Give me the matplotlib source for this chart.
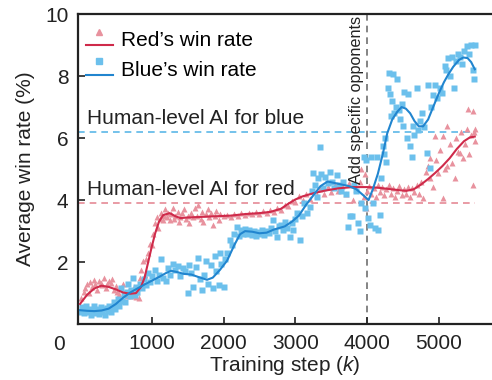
import matplotlib
matplotlib.use('Agg')
import matplotlib.pyplot as plt
from matplotlib.lines import Line2D
from matplotlib.legend_handler import HandlerBase

plt.rcParams['font.family'] = ['Liberation Sans', 'DejaVu Sans']
plt.rcParams['mathtext.fontset'] = 'custom'
plt.rcParams['mathtext.rm'] = 'Liberation Sans'
plt.rcParams['mathtext.it'] = 'Liberation Sans:italic'

# smoothed curves
red_line_x = [0, 100, 200, 300, 400, 500, 600, 700, 780, 850, 900, 950, 1000, 1050, 1100, 1160,
              1250, 1330, 1400, 1500, 1700, 1900, 2100, 2300, 2500, 2650, 2800, 2900, 3000, 3100,
              3250, 3400, 3600, 3800, 4000, 4150, 4300, 4450, 4550, 4650, 4750, 4850, 4950, 5050,
              5150, 5250, 5350, 5430, 5500]
red_line_y = [0.65, 0.95, 1.15, 1.24, 1.2, 1.12, 1.02, 0.98, 1.0, 1.2, 1.5, 2.0, 2.5, 2.95, 3.3, 3.52,
              3.58, 3.48, 3.42, 3.44, 3.46, 3.48, 3.5, 3.55, 3.58, 3.62, 3.72, 3.88, 4.02, 4.12,
              4.22, 4.3, 4.38, 4.42, 4.42, 4.4, 4.36, 4.32, 4.3, 4.35, 4.5, 4.68, 4.88, 5.1,
              5.35, 5.65, 5.9, 6.02, 6.05]

blue_line_x = [0, 100, 200, 300, 400, 500, 600, 700, 800, 900, 1000, 1100, 1200, 1270, 1350, 1450,
               1550, 1650, 1770, 1850, 1950, 2050, 2150, 2230, 2300, 2400, 2500, 2600, 2700, 2850,
               2950, 3050, 3150, 3250, 3350, 3450, 3550, 3650, 3750, 3850, 3950, 4020, 4080, 4150,
               4220, 4280, 4350, 4420, 4480, 4540, 4600, 4660, 4720, 4780, 4850, 4920, 5000, 5070,
               5130, 5200, 5280, 5340, 5400, 5450, 5500]
blue_line_y = [0.45, 0.43, 0.42, 0.44, 0.5, 0.65, 0.85, 1.02, 1.15, 1.28, 1.4, 1.52, 1.65, 1.72, 1.68, 1.62,
               1.6, 1.52, 1.43, 1.5, 1.75, 2.05, 2.55, 2.9, 3.0, 2.98, 2.93, 2.95, 3.05, 3.15,
               3.3, 3.5, 3.85, 4.15, 4.45, 4.6, 4.55, 4.5, 4.45, 4.35, 4.15, 4.0, 4.35, 4.85,
               5.5, 6.15, 6.6, 6.85, 7.0, 6.95, 6.8, 6.55, 6.38, 6.38, 6.6, 7.0, 7.45, 7.8,
               8.05, 8.3, 8.52, 8.6, 8.58, 8.45, 8.22]

# raw points
red_pts = [
    (20, 0.85), (50, 1.05), (70, 1.17), (100, 1.3), (120, 1.0), (140, 1.35), (170, 1.2), (190, 1.42),
    (210, 1.3), (240, 1.1), (260, 1.38), (290, 1.33), (310, 1.25), (330, 1.5), (360, 1.18), (380, 1.28),
    (400, 1.4), (430, 1.33), (450, 1.46), (470, 1.1), (500, 1.22), (520, 1.05), (550, 0.98), (570, 1.15),
    (600, 1.3), (620, 1.02), (650, 0.9), (680, 1.1), (700, 1.0), (730, 0.92), (750, 1.2), (780, 0.88),
    (800, 1.05), (820, 0.85),
    (840, 1.5), (855, 1.73), (880, 2.05), (900, 1.6), (920, 2.1), (950, 2.3), (970, 2.6), (1000, 2.55),
    (1020, 2.9), (1045, 3.25), (1070, 3.45), (1090, 3.1), (1110, 3.4), (1130, 3.6), (1150, 3.35),
    (1170, 3.5), (1190, 3.7), (1210, 3.45), (1230, 3.6), (1250, 3.35), (1270, 3.55), (1290, 3.75),
    (1310, 3.4), (1330, 3.5), (1360, 3.62), (1380, 3.3), (1400, 3.45), (1420, 3.58), (1450, 3.7),
    (1470, 3.4), (1500, 3.5), (1520, 3.25), (1550, 3.6), (1570, 3.45), (1600, 3.75), (1630, 3.5),
    (1650, 3.85), (1680, 3.4), (1700, 3.62), (1720, 3.3), (1750, 3.55), (1780, 3.7), (1800, 3.45),
    (1830, 3.6), (1850, 3.2), (1880, 3.5), (1900, 3.65), (1930, 3.35), (1950, 3.55),
    (2000, 3.48), (2050, 3.52), (2100, 3.46), (2150, 3.54), (2200, 3.5), (2250, 3.57), (2300, 3.52),
    (2350, 3.6), (2400, 3.55), (2450, 3.62), (2500, 3.56), (2550, 3.64), (2600, 3.58), (2650, 3.68),
    (2700, 3.62), (2750, 3.75), (2800, 3.68), (2850, 3.85), (2900, 3.8), (2950, 3.98), (3000, 3.95),
    (3050, 4.12), (3100, 4.0), (3150, 4.2), (3200, 4.05), (3250, 4.3), (3300, 4.15), (3350, 4.35),
    (3400, 4.2), (3450, 4.42), (3500, 4.25), (3550, 4.5), (3600, 4.3), (3650, 4.45), (3700, 4.2),
    (3750, 4.55), (3800, 4.0), (3850, 4.35), (3900, 4.6), (3920, 5.0), (3950, 4.1), (3970, 4.85),
    (3980, 3.75), (4000, 4.3),
    (4030, 4.45), (4060, 4.2), (4090, 4.38), (4120, 4.1), (4150, 4.5), (4180, 4.25), (4210, 4.42),
    (4240, 4.15), (4270, 4.35), (4300, 4.5), (4330, 4.2), (4360, 4.4), (4390, 4.1), (4420, 4.3),
    (4450, 4.45), (4480, 4.15), (4510, 4.35), (4540, 4.2), (4570, 4.42), (4600, 4.1), (4630, 4.38),
    (4660, 4.25), (4690, 4.5), (4720, 4.2),
    (4750, 4.6), (4780, 4.07), (4820, 4.9), (4850, 5.1), (4870, 5.37), (4880, 4.7), (4920, 4.43),
    (4940, 6.06), (4960, 5.3), (4990, 4.88), (5020, 5.6), (5060, 4.07), (5060, 6.06), (5080, 5.0),
    (5110, 6.38), (5120, 5.1), (5150, 5.8), (5180, 5.2), (5220, 4.72), (5240, 6.0), (5260, 5.55),
    (5290, 5.53), (5310, 6.2), (5340, 5.37), (5370, 5.8), (5390, 6.28), (5400, 6.94), (5420, 5.5),
    (5450, 6.1), (5470, 6.87), (5470, 4.5), (5490, 6.2), (5500, 5.9), (5510, 6.3),
]
blue_pts = [
    (10, 0.4), (30, 0.55), (50, 0.35), (70, 0.48), (90, 0.6), (110, 0.38), (130, 0.5), (150, 0.3),
    (170, 0.45), (190, 0.58), (210, 0.36), (230, 0.5), (250, 0.42), (270, 0.32), (290, 0.55), (310, 0.4),
    (330, 0.48), (350, 0.3), (370, 0.52), (390, 0.42), (410, 0.6), (430, 0.38), (450, 0.55), (470, 0.7),
    (490, 0.48), (510, 0.62), (530, 0.8), (550, 0.58), (570, 1.17), (590, 0.75), (610, 0.95), (630, 0.7),
    (650, 1.05), (670, 1.3), (690, 0.9), (710, 1.1), (740, 1.5), (760, 0.95), (780, 1.2),
    (800, 1.05), (830, 1.3), (860, 1.15), (890, 1.45), (920, 1.25), (950, 1.66), (980, 1.35), (1010, 1.55),
    (1045, 1.73), (1070, 1.4), (1100, 1.6), (1130, 2.1), (1160, 1.5), (1200, 1.4), (1230, 1.8), (1260, 1.6),
    (1300, 1.95), (1330, 1.75), (1365, 1.89), (1400, 1.55), (1430, 1.8), (1460, 1.7), (1500, 1.0),
    (1520, 1.9), (1550, 1.65), (1580, 1.2), (1610, 1.85), (1645, 2.12), (1670, 1.45), (1700, 1.1),
    (1730, 1.6), (1760, 2.05), (1790, 1.3), (1820, 1.9), (1850, 1.15), (1880, 2.2), (1900, 1.7),
    (1930, 1.25), (1950, 2.3), (1970, 1.95), (2000, 1.2), (2020, 2.1),
    (2050, 2.3), (2090, 2.7), (2120, 2.55), (2150, 2.9), (2185, 3.13), (2210, 2.85), (2240, 3.05),
    (2270, 2.9), (2300, 3.08), (2330, 2.92), (2360, 3.02), (2390, 2.88), (2420, 3.0), (2450, 2.85),
    (2480, 2.98), (2510, 2.9), (2540, 3.05), (2570, 2.88), (2600, 3.0), (2630, 2.95), (2660, 3.1),
    (2690, 3.35), (2720, 3.0), (2740, 2.8), (2770, 3.15), (2800, 3.2), (2830, 3.05), (2860, 3.3),
    (2890, 3.1), (2920, 2.8), (2950, 3.25), (2970, 3.03),
    (3000, 3.4), (3030, 3.6), (3060, 2.7), (3090, 3.5), (3120, 3.9), (3160, 3.58), (3200, 3.78),
    (3230, 4.3), (3250, 4.88), (3280, 4.5), (3300, 4.1), (3320, 4.7), (3340, 5.7), (3360, 4.85),
    (3390, 4.4), (3420, 4.75), (3450, 4.55), (3480, 4.9), (3510, 4.6), (3540, 4.4), (3580, 4.82),
    (3610, 4.5), (3640, 4.3), (3670, 4.6), (3700, 4.2), (3730, 3.13), (3760, 3.5), (3790, 3.5),
    (3820, 4.5), (3850, 4.3), (3870, 3.26), (3900, 3.0), (3920, 3.9), (3950, 5.4), (3970, 3.74),
    (3990, 5.3),
    (4010, 3.42), (4040, 3.2), (4060, 5.4), (4080, 3.9), (4110, 3.1), (4140, 5.4), (4150, 3.05),
    (4180, 3.52), (4200, 4.7), (4220, 5.73), (4240, 5.5), (4250, 6.0), (4270, 5.24), (4290, 7.6),
    (4300, 8.1), (4320, 7.43), (4330, 6.7), (4350, 7.2), (4360, 8.08), (4380, 6.8), (4400, 7.0),
    (4420, 7.9), (4440, 6.9), (4460, 6.6), (4480, 7.1), (4500, 6.38), (4520, 7.5), (4550, 6.0),
    (4570, 7.43), (4600, 5.73), (4620, 5.4), (4640, 6.4), (4660, 6.1), (4690, 7.6), (4710, 6.25),
    (4730, 6.55), (4760, 6.8), (4790, 6.35), (4830, 5.53), (4850, 7.7), (4870, 5.05), (4890, 7.0),
    (4920, 7.4), (4950, 7.7), (4980, 7.3), (5010, 7.6), (5040, 7.45), (5080, 8.34), (5100, 8.2),
    (5130, 8.57), (5160, 8.0), (5180, 8.6), (5210, 7.6), (5240, 8.5), (5270, 8.7), (5290, 8.63),
    (5320, 8.4), (5350, 8.8), (5390, 8.96), (5420, 8.7), (5450, 9.0), (5470, 8.2), (5490, 7.9),
    (5500, 9.0),
]

red_human = 3.9
blue_human = 6.2
switch_step = 4000

RED, RED_PT = '#cf2a4a', '#e8929e'
BLUE, BLUE_PT = '#2185cf', '#6cc0ec'
FS = 15


class MarkerOverLine(HandlerBase):
    def create_artists(self, legend, orig_handle, xdescent, ydescent, width, height, fontsize, trans):
        mk, ln = orig_handle
        x0 = -xdescent
        y0 = -ydescent
        l = Line2D([x0, x0 + width], [y0 + 0.05 * height, y0 + 0.05 * height],
                   color=ln.get_color(), lw=ln.get_linewidth(), transform=trans)
        m = Line2D([x0 + width / 2], [y0 + 1.0 * height], marker=mk.get_marker(), ms=mk.get_markersize(),
                   color=mk.get_color(), ls='none', transform=trans)
        return [l, m]


fig = plt.figure(figsize=(4.92, 3.80), dpi=100)
ax = fig.add_axes([0.1585, 0.147, 0.8415, 0.816])

ax.plot([p[0] for p in red_pts], [p[1] for p in red_pts], ls='none', marker='^', ms=4,
        color=RED_PT, mec='none', zorder=2)
ax.plot([p[0] for p in blue_pts], [p[1] for p in blue_pts], ls='none', marker='s', ms=3.7,
        color=BLUE_PT, mec='none', zorder=2)
red_ln, = ax.plot(red_line_x, red_line_y, color=RED, lw=1.5, zorder=4)
blue_ln, = ax.plot(blue_line_x, blue_line_y, color=BLUE, lw=1.5, zorder=4)

ax.plot([-28, 5500], [red_human, red_human], ls=(0, (4, 3)), color='#e58a96', lw=1.2, zorder=1)
ax.plot([-28, 5500], [blue_human, blue_human], ls=(0, (4, 3)), color='#5cb8e8', lw=1.2, zorder=1)
ax.axvline(switch_step, ls=(0, (4, 3)), color='#707070', lw=1.2, zorder=1)

ax.text(100, 6.47, 'Human-level AI for blue', fontsize=FS, va='baseline', color='#222222')
ax.text(100, 4.17, 'Human-level AI for red', fontsize=FS, va='baseline', color='#222222')
ax.text(3960, 9.93, 'Add specific opponents', fontsize=11.7, rotation=90, ha='right', va='top',
        color='#222222')

ax.set_xlim(-28, 5740)
ax.set_ylim(0, 10)
ax.set_xticks([1000, 2000, 3000, 4000, 5000])
ax.set_yticks([2, 4, 6, 8, 10])
ax.tick_params(direction='in', length=5, width=1.2, labelsize=FS, pad=7, colors='#222222')
for s in ['left', 'bottom', 'top']:
    ax.spines[s].set_linewidth(1.6)
    ax.spines[s].set_color('#222222')
ax.spines['right'].set_visible(False)
ax.text(-0.045, -0.065, '0', transform=ax.transAxes, fontsize=FS, ha='center', va='center',
        color='#222222')

ax.set_xlabel('Training step ($k$)', fontsize=FS, labelpad=1, color='#222222')
ax.set_ylabel('Average win rate (%)', fontsize=FS, labelpad=7, color='#222222')

red_mk = Line2D([], [], marker='^', ms=4, color=RED_PT, ls='none')
blue_mk = Line2D([], [], marker='s', ms=3.7, color=BLUE_PT, ls='none')
ax.legend([(red_mk, red_ln), (blue_mk, blue_ln)], ['Red’s win rate', 'Blue’s win rate'],
          handler_map={tuple: MarkerOverLine()}, loc='upper left', bbox_to_anchor=(0.019, 0.945),
          frameon=False, fontsize=FS, handlelength=1.3, handletextpad=0.4, labelspacing=0.5,
          borderpad=0, borderaxespad=0)

fig.savefig('out.png', dpi=100)
